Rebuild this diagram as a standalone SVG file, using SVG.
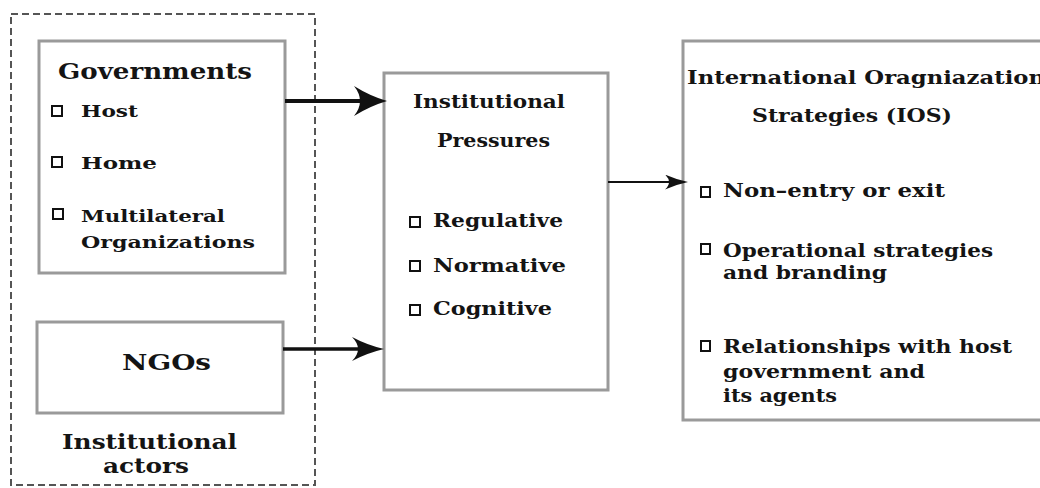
<svg xmlns="http://www.w3.org/2000/svg" width="1040" height="488" viewBox="0 0 1040 488">
  <style>
    .box { fill: #ffffff; stroke: #9a9a9a; stroke-width: 3; }
    .group { fill: none; stroke: #555555; stroke-width: 2; stroke-dasharray: 7 4; }
    .bul { fill: #ffffff; stroke: #111111; stroke-width: 2; }
    text { font-family: "DejaVu Serif", "Liberation Serif", serif; font-weight: bold; fill: #141414; }
    .conn { stroke: #111111; fill: none; }
  </style>
  <defs>
    <marker id="headL" markerUnits="userSpaceOnUse" viewBox="0 0 33 30" refX="10" refY="15" markerWidth="33" markerHeight="30" orient="auto">
      <path d="M0,0 Q16,10 33,15 Q16,20 0,30 Q12,15 0,0 z" fill="#111111"/>
    </marker>
    <marker id="headM" markerUnits="userSpaceOnUse" viewBox="0 0 32 24" refX="10" refY="12" markerWidth="32" markerHeight="24" orient="auto">
      <path d="M0,0 Q15,8 32,12 Q15,16 0,24 Q12,12 0,0 z" fill="#111111"/>
    </marker>
    <marker id="headS" markerUnits="userSpaceOnUse" viewBox="0 0 23 15" refX="7" refY="7.5" markerWidth="23" markerHeight="15" orient="auto">
      <path d="M0,0 Q11,5 23,7.5 Q11,10 0,15 Q8,7.5 0,0 z" fill="#111111"/>
    </marker>
  </defs>

  <rect width="1040" height="488" fill="#ffffff"/>

  <!-- Institutional actors (dashed grouping frame) -->
  <g id="institutional-actors">
    <rect class="group" x="11" y="14" width="304" height="471"/>
    <text x="62" y="449" font-size="20" textLength="175" lengthAdjust="spacingAndGlyphs">Institutional</text>
    <text x="103" y="473" font-size="20" textLength="86" lengthAdjust="spacingAndGlyphs">actors</text>
  </g>

  <g id="governments">
    <rect class="box" x="39" y="41" width="246" height="232"/>
    <text x="58" y="79" font-size="22" textLength="194" lengthAdjust="spacingAndGlyphs">Governments</text>
    <rect class="bul" x="52" y="106" width="10" height="10"/>
    <text x="81" y="117" font-size="17" textLength="57" lengthAdjust="spacingAndGlyphs">Host</text>
    <rect class="bul" x="52" y="157" width="10" height="10"/>
    <text x="81" y="169" font-size="17" textLength="76" lengthAdjust="spacingAndGlyphs">Home</text>
    <rect class="bul" x="53" y="209" width="10" height="10"/>
    <text x="81" y="222" font-size="17" textLength="144" lengthAdjust="spacingAndGlyphs">Multilateral</text>
    <text x="81" y="248" font-size="17" textLength="174" lengthAdjust="spacingAndGlyphs">Organizations</text>
  </g>

  <g id="ngos">
    <rect class="box" x="37" y="322" width="246" height="91"/>
    <text x="122" y="370" font-size="23" textLength="89" lengthAdjust="spacingAndGlyphs">NGOs</text>
  </g>

  <g id="institutional-pressures">
    <rect class="box" x="384" y="73" width="224" height="317"/>
    <text x="413" y="108" font-size="18" textLength="152" lengthAdjust="spacingAndGlyphs">Institutional</text>
    <text x="437" y="147" font-size="18" textLength="113" lengthAdjust="spacingAndGlyphs">Pressures</text>
    <rect class="bul" x="410" y="217" width="10" height="10"/>
    <text x="433" y="227" font-size="18" textLength="130" lengthAdjust="spacingAndGlyphs">Regulative</text>
    <rect class="bul" x="410" y="261" width="10" height="10"/>
    <text x="433" y="272" font-size="18" textLength="133" lengthAdjust="spacingAndGlyphs">Normative</text>
    <rect class="bul" x="410" y="305" width="10" height="10"/>
    <text x="433" y="315" font-size="18" textLength="119" lengthAdjust="spacingAndGlyphs">Cognitive</text>
  </g>

  <g id="ios">
    <rect class="box" x="683" y="41" width="400" height="379"/>
    <text x="687" y="84" font-size="18" textLength="358" lengthAdjust="spacingAndGlyphs">International Oragniazation</text>
    <text x="752" y="122" font-size="18" textLength="200" lengthAdjust="spacingAndGlyphs">Strategies (IOS)</text>
    <rect class="bul" x="701" y="187" width="9" height="10"/>
    <text x="723" y="197" font-size="19" textLength="222" lengthAdjust="spacingAndGlyphs">Non–entry or exit</text>
    <rect class="bul" x="701" y="244" width="9" height="10"/>
    <text x="723" y="257" font-size="19" textLength="270" lengthAdjust="spacingAndGlyphs">Operational strategies</text>
    <text x="723" y="279" font-size="19" textLength="164" lengthAdjust="spacingAndGlyphs">and branding</text>
    <rect class="bul" x="701" y="341" width="9" height="10"/>
    <text x="723" y="353" font-size="19" textLength="289" lengthAdjust="spacingAndGlyphs">Relationships with host</text>
    <text x="723" y="378" font-size="19" textLength="202" lengthAdjust="spacingAndGlyphs">government and</text>
    <text x="723" y="402" font-size="19" textLength="114" lengthAdjust="spacingAndGlyphs">its agents</text>
  </g>

  <g id="connectors">
    <line class="conn" x1="285" y1="101" x2="364" y2="101" stroke-width="4" marker-end="url(#headL)"/>
    <line class="conn" x1="283" y1="349" x2="362" y2="349" stroke-width="3.5" marker-end="url(#headM)"/>
    <line class="conn" x1="608" y1="182" x2="672" y2="182" stroke-width="1.8" marker-end="url(#headS)"/>
  </g>
</svg>
